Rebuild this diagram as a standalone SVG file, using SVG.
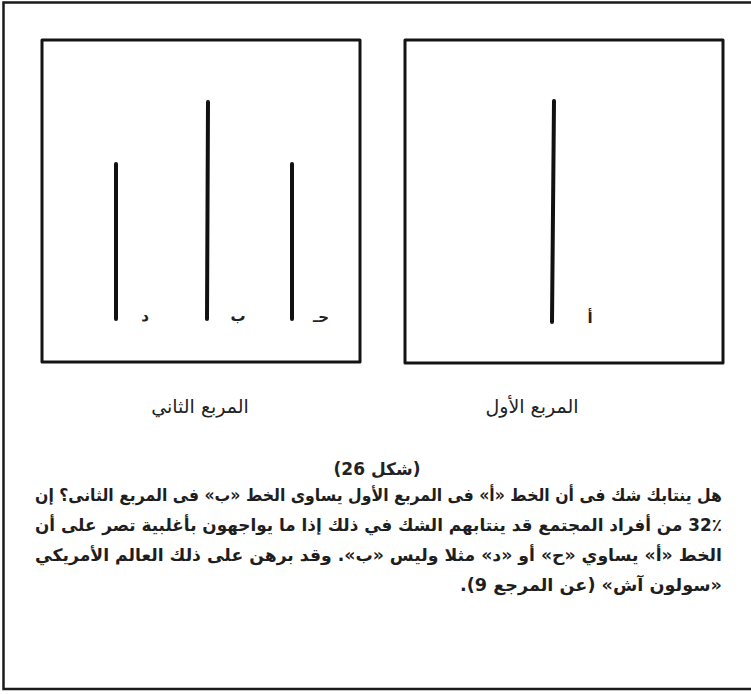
<svg xmlns="http://www.w3.org/2000/svg" width="751" height="694" viewBox="0 0 751 694">
<style>
.frame{fill:none;stroke:#1a1a1a;stroke-width:2.5}
.sq{fill:none;stroke:#141414;stroke-width:3;stroke-linejoin:round}
.bar{stroke:#111;stroke-width:4;stroke-linecap:round}
.lbl{font-family:"DejaVu Sans",sans-serif;font-size:15px;fill:#222;font-weight:bold}
.cap{font-family:"DejaVu Sans",sans-serif;font-size:19px;fill:#222}
.fig{font-family:"DejaVu Sans",sans-serif;font-size:17px;fill:#222;font-weight:bold}
.txt{font-family:"DejaVu Sans",sans-serif;font-size:17px;fill:#1e1e1e;font-weight:bold}
</style>
<rect width="751" height="694" fill="#ffffff"/>
<path class="frame" d="M751,2.5 L3.5,2.5 L3.5,689 L751,689"/>
<g id="square2">
<rect class="sq" x="42" y="40" width="318" height="322"/>
<line class="bar" x1="116" y1="164" x2="116" y2="319"/>
<line class="bar" x1="208" y1="102" x2="207" y2="319"/>
<line class="bar" x1="292" y1="164" x2="292" y2="319"/>
<text class="lbl" x="145" y="321" text-anchor="middle" direction="rtl">د</text>
<text class="lbl" x="238" y="321" text-anchor="middle" direction="rtl">ب</text>
<text class="lbl" x="321" y="322" text-anchor="middle" direction="rtl">حـ</text>
</g>
<g id="square1">
<rect class="sq" x="405" y="40" width="318" height="323"/>
<line class="bar" x1="554" y1="101" x2="552" y2="322"/>
<text class="lbl" x="590" y="323" text-anchor="middle" direction="rtl" font-size="20">أ</text>
</g>
<text class="cap" x="200" y="413" text-anchor="middle" direction="rtl">المربع الثاني</text>
<text class="cap" x="532" y="413" text-anchor="middle" direction="rtl">المربع الأول</text>
<text class="fig" x="377" y="475" text-anchor="middle" direction="rtl">(شكل 26)</text>
<g id="caption">
<text class="txt" x="722" y="501" direction="rtl" text-anchor="start" textLength="687" lengthAdjust="spacingAndGlyphs">هل ينتابك شك فى أن الخط «أ» فى المربع الأول يساوى الخط «ب» فى المربع الثانى؟ إن</text>
<text class="txt" x="722" y="531" direction="rtl" text-anchor="start" textLength="687" lengthAdjust="spacingAndGlyphs">32٪ من أفراد المجتمع قد ينتابهم الشك في ذلك إذا ما يواجهون بأغلبية تصر على أن</text>
<text class="txt" x="722" y="561" direction="rtl" text-anchor="start" textLength="687" lengthAdjust="spacingAndGlyphs">الخط «أ» يساوي «ح» أو «د» مثلا وليس «ب». وقد برهن على ذلك العالم الأمريكي</text>
<text class="txt" x="722" y="591" direction="rtl" text-anchor="start" textLength="262" lengthAdjust="spacingAndGlyphs">«سولون آش» (عن المرجع 9).</text>
</g>
</svg>
